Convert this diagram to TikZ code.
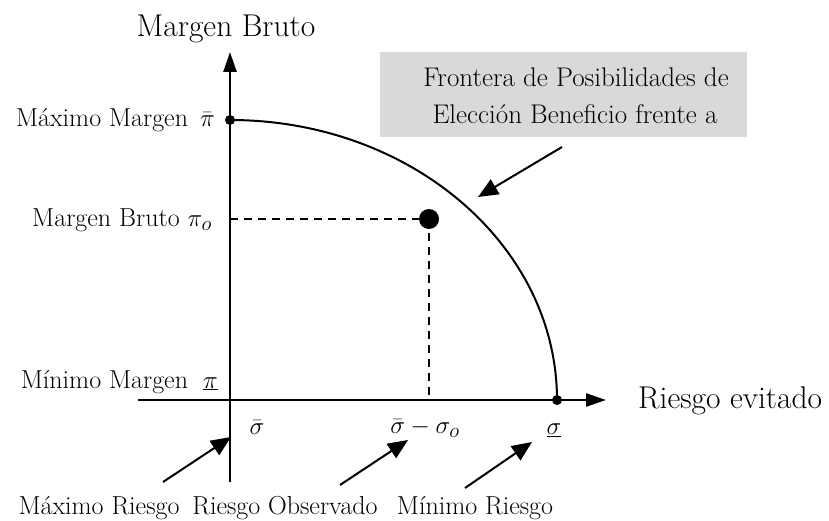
\documentclass[tikz,border=0pt]{standalone}
\usetikzlibrary{arrows.meta}
\definecolor{boxgray}{RGB}{217,217,217}
\newcommand{\mymth}[1]{{\fontsize{30}{30}\selectfont$#1$}}
\begin{document}
\begin{tikzpicture}[x=1pt,y=-1pt,
  lbl/.style={font=\fontsize{26}{31}\selectfont, inner sep=0pt},
  boxtxt/.style={font=\fontsize{27}{32}\selectfont, inner sep=0pt},
  ttl/.style={font=\fontsize{31.5}{37}\selectfont, inner sep=0pt},
  axisline/.style={line width=2.5pt, -{Triangle[length=20pt,width=13pt]}},
  ptr/.style={line width=2pt, -{Triangle[length=20pt,width=17pt]}},
  dashline/.style={line width=1.6pt, dash pattern=on 8pt off 6pt},
  curveline/.style={line width=2pt},
  dotS/.style={circle, fill=black, inner sep=0pt, minimum size=10pt},
  dotL/.style={circle, fill=black, inner sep=0pt, minimum size=20pt},
  infobox/.style={fill=boxgray, inner sep=0pt, minimum width=367pt, minimum height=85pt}
]
\useasboundingbox (0,0) rectangle (829,521);

% axes
\coordinate (ytop) at (230,52);
\coordinate (ybot) at (230,482);
\coordinate (xleft) at (138,400);
\coordinate (xright) at (606,400);
\draw[axisline] (ybot) -- (ytop);
\draw[axisline] (xleft) -- (xright);

% frontier
\node[dotS] (pmax) at (230,120) {};
\node[dotS] (smin) at (557,400) {};
\draw[curveline] (pmax.center) arc[start angle=90, end angle=0, x radius=327pt, y radius=280pt];

% observed point
\node[dotL] (p) at (429,219) {};
\coordinate (ypo) at (230,219);
\coordinate (xso) at (429,400);
\draw[dashline] (ypo) -- (p.center);
\draw[dashline] (p.center) -- (xso);

% info box
\node[infobox] (fbox) at (563.5,94.5) {};
\node[boxtxt, anchor=base] (ft1) at (576,87) {Frontera de Posibilidades de};
\node[boxtxt, anchor=base] (ft2) at (575,124) {Elección Beneficio frente a};
\coordinate (ba1) at (562,147);
\coordinate (ba2) at (478,197);
\draw[ptr] (ba1) -- (ba2);

% axis titles
\node[ttl, anchor=base] (ylab) at (226,37) {Margen Bruto};
\node[ttl, anchor=base west] (xlab) at (638,408) {Riesgo evitado};

% y labels
\node[lbl, anchor=base east] (lmax) at (215,127) {Máximo Margen\hspace{12pt}\mymth{\bar{\pi}}};
\node[lbl, anchor=base east] (lpo) at (212,227) {Margen Bruto\hspace{8pt}\mymth{\pi_o}};
\node[lbl, anchor=base east] (lmin) at (218,388) {Mínimo Margen\hspace{15pt}\mymth{\underline{\pi}}};

% x labels
\node[lbl] (sbar) at (257,428) {\mymth{\bar{\sigma}}};
\node[lbl] (sdiff) at (425,428) {\mymth{\bar{\sigma}-\sigma_o}};
\node[lbl] (smn) at (554,430) {\mymth{\underline{\sigma}}};

% bottom labels
\node[lbl, anchor=base] (bmax) at (99,514) {Máximo Riesgo};
\node[lbl, anchor=base] (bobs) at (285,514) {Riesgo Observado};
\node[lbl, anchor=base] (bmin) at (475,514) {Mínimo Riesgo};

% pointer arrows
\coordinate (a1t) at (163,482); \coordinate (a1h) at (231,437);
\coordinate (a2t) at (340,485); \coordinate (a2h) at (408,440);
\coordinate (a3t) at (465,488); \coordinate (a3h) at (532,442);
\draw[ptr] (a1t) -- (a1h);
\draw[ptr] (a2t) -- (a2h);
\draw[ptr] (a3t) -- (a3h);
\end{tikzpicture}
\end{document}
